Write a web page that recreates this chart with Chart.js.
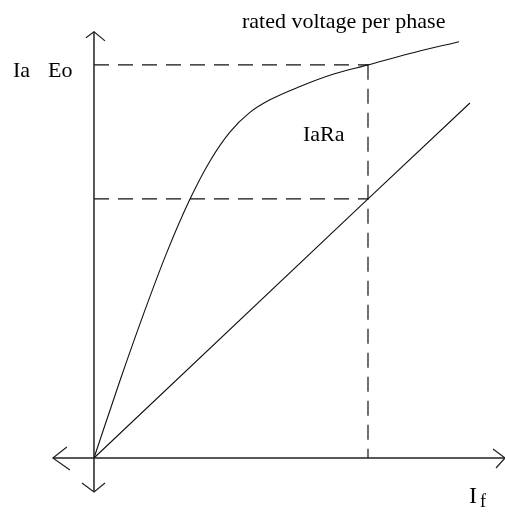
<!DOCTYPE html>
<html>
<head>
<meta charset="utf-8">
<script src="https://cdn.jsdelivr.net/npm/chart.js@4"></script>
<style>
  html, body { margin: 0; padding: 0; background: #fff; }
  #wrap { width: 505px; height: 512px; }
</style>
</head>
<body>
<div id="wrap"><canvas id="myChart" width="505" height="512"></canvas></div>
<script>
// open circuit characteristic (Eo vs If)
const ifOcc = [0, 0.95, 1.86, 2.66, 3.5, 4.23, 4.96, 5.69, 6.42, 7.52, 8.72, 10, 11.53, 13.32]
const eOcc = [0, 19.7, 37.6, 52.3, 65.8, 75.5, 82.9, 87.9, 91.1, 94.5, 97.6, 100, 102.9, 105.9]
// short circuit characteristic (Ia vs If)
const ifScc = [0, 10, 13.72]
const iaScc = [0, 65.9, 90.3]
// rated point
const ratedIf = 10
const ratedE = 100
const ratedIa = 65.9
// axis extents
const xAxisRange = [-1.5, 15]
const yAxisRange = [-8.65, 108.4]

function toPoints(xs, ys) {
    return xs.map((x, i) => ({x: x, y: ys[i]}))
}

const ink = '#111'
const serif = '"Liberation Serif", "Times New Roman", serif'

const dashed = {
    borderColor: ink,
    borderWidth: 1.2,
    borderDash: [15, 9],
    pointRadius: 0,
    showLine: true,
    fill: false
}

const axesPlugin = {
    id: 'axesPlugin',
    afterDatasetsDraw(chart) {
        const ctx = chart.ctx
        const xs = chart.scales.x
        const ys = chart.scales.y
        const ox = xs.getPixelForValue(0)
        const oy = ys.getPixelForValue(0)
        const x0 = xs.getPixelForValue(xAxisRange[0])
        const x1 = xs.getPixelForValue(xAxisRange[1])
        const y0 = ys.getPixelForValue(yAxisRange[0])
        const y1 = ys.getPixelForValue(yAxisRange[1])

        ctx.save()
        ctx.strokeStyle = '#222'
        ctx.lineWidth = 1.5
        ctx.beginPath()
        ctx.moveTo(x0, oy); ctx.lineTo(x1, oy)
        ctx.moveTo(ox, y0); ctx.lineTo(ox, y1)
        ctx.stroke()

        ctx.lineWidth = 1.2
        ctx.beginPath()
        // top
        ctx.moveTo(ox - 8, y1 + 6); ctx.lineTo(ox, y1); ctx.lineTo(ox + 11, y1 + 9)
        // bottom
        ctx.moveTo(ox - 12, y0 - 9); ctx.lineTo(ox, y0); ctx.lineTo(ox + 11, y0 - 9)
        // left
        ctx.moveTo(x0 + 14, oy - 11); ctx.lineTo(x0, oy); ctx.lineTo(x0 + 17, oy + 12)
        // right
        ctx.moveTo(x1 - 12, oy - 9); ctx.lineTo(x1, oy); ctx.lineTo(x1 - 9, oy + 10)
        ctx.stroke()

        // labels
        ctx.fillStyle = '#000'
        ctx.textBaseline = 'alphabetic'
        ctx.textAlign = 'left'
        ctx.font = '22px ' + serif
        const ry = ys.getPixelForValue(ratedE)
        const rx = xs.getPixelForValue(ratedIf)
        ctx.fillText('rated voltage per phase', rx - 126, ry - 37)
        ctx.fillText('Ia', ox - 81, ry + 12)
        ctx.fillText('Eo', ox - 46, ry + 12)
        ctx.fillText('IaRa', rx - 65, ry + 76)
        ctx.font = '24px ' + serif
        ctx.fillText('I', x1 - 36, oy + 45)
        ctx.font = '18px ' + serif
        ctx.fillText('f', x1 - 25, oy + 49)
        ctx.restore()
    }
}

new Chart(document.getElementById('myChart'), {
    type: 'scatter',
    data: {
        datasets: [
            {
                label: 'Eo',
                data: toPoints(ifOcc, eOcc),
                borderColor: ink,
                borderWidth: 1.1,
                pointRadius: 0,
                showLine: true,
                cubicInterpolationMode: 'monotone',
                fill: false
            },
            {
                label: 'Ia',
                data: toPoints(ifScc, iaScc),
                borderColor: ink,
                borderWidth: 1.1,
                pointRadius: 0,
                showLine: true,
                fill: false
            },
            Object.assign({label: 'rated E', data: [{x: 0, y: ratedE}, {x: ratedIf, y: ratedE}]}, dashed),
            Object.assign({label: 'rated Ia', data: [{x: 0, y: ratedIa}, {x: ratedIf, y: ratedIa}]}, dashed),
            Object.assign({label: 'rated If', data: [{x: ratedIf, y: ratedE}, {x: ratedIf, y: 0}]}, dashed)
        ]
    },
    options: {
        responsive: false,
        animation: false,
        layout: {padding: 0},
        plugins: {
            legend: {display: false},
            tooltip: {enabled: false}
        },
        scales: {
            x: {type: 'linear', display: false, min: -3.43, max: 15.0},
            y: {type: 'linear', display: false, min: -13.74, max: 116.5}
        }
    },
    plugins: [axesPlugin]
})
</script>
</body>
</html>
